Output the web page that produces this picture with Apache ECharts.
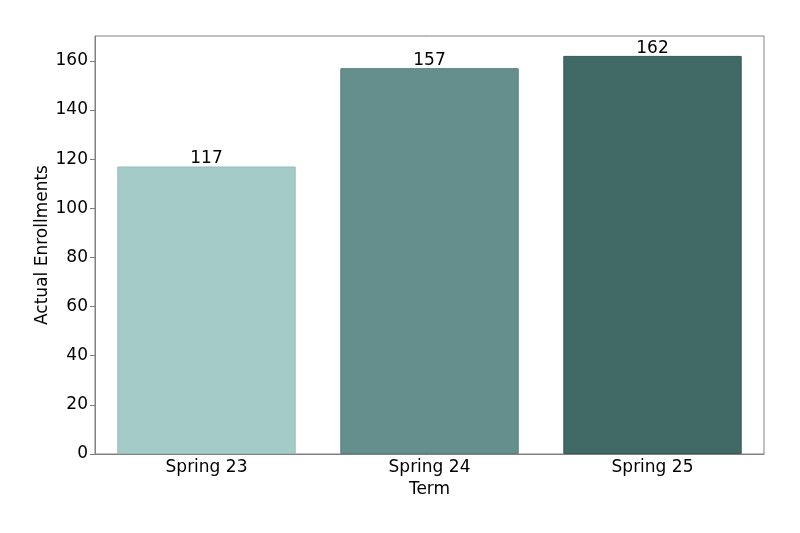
<!DOCTYPE html>
<html>
<head>
<meta charset="utf-8">
<script src="https://cdn.jsdelivr.net/npm/echarts@6/dist/echarts.min.js"></script>
<style>
  html, body { margin: 0; padding: 0; background: #fff; }
  #chart { width: 800px; height: 533px; }
</style>
</head>
<body>
<div id="chart"></div>
<script>
// chart data
const terms = ["Spring 23", "Spring 24", "Spring 25"];
const enrollments = [117, 157, 162];
const barColors = ["#a5cbc8", "#658f8c", "#416966"];
const edgeColors = ["#96bdb9", "#587f7c", "#355a56"];

const chart = echarts.init(document.getElementById("chart"));
const font = "DejaVu Sans";

const options = {
    animation: false,
    grid: {
        left: 95, right: 36, top: 36, bottom: 79,
        show: true, borderColor: "#808080", borderWidth: 1,
        backgroundColor: "transparent"
    },
    xAxis: {
        type: "category",
        data: terms,
        name: "Term",
        nameLocation: "middle",
        nameGap: 27,
        nameTextStyle: { fontFamily: font, fontSize: 17, color: "#000" },
        axisLine: { lineStyle: { color: "#808080" } },
        axisTick: { alignWithLabel: true, length: 5, lineStyle: { color: "#808080" } },
        axisLabel: { fontFamily: font, fontSize: 17, color: "#000", margin: 5 }
    },
    yAxis: {
        type: "value",
        min: 0,
        max: 170.1,
        interval: 20,
        name: "Actual Enrollments",
        nameLocation: "middle",
        nameGap: 44,
        nameMoveOverlap: false,
        nameTextStyle: { fontFamily: font, fontSize: 17, color: "#000" },
        axisLine: { show: true, lineStyle: { color: "#808080" } },
        axisTick: { show: true, length: 5, lineStyle: { color: "#808080" } },
        axisLabel: { fontFamily: font, fontSize: 17, color: "#000", margin: 7, showMaxLabel: false },
        splitLine: { show: false }
    },
    series: [
        {
            type: "bar",
            barWidth: "80%",
            data: enrollments.map((v, i) => ({
                value: v,
                itemStyle: { color: barColors[i], borderColor: edgeColors[i], borderWidth: 1 }
            })),
            label: {
                show: true,
                position: "top",
                distance: -1,
                fontFamily: font,
                fontSize: 17,
                color: "#000"
            }
        }
    ]
};

chart.setOption(options);
</script>
</body>
</html>
